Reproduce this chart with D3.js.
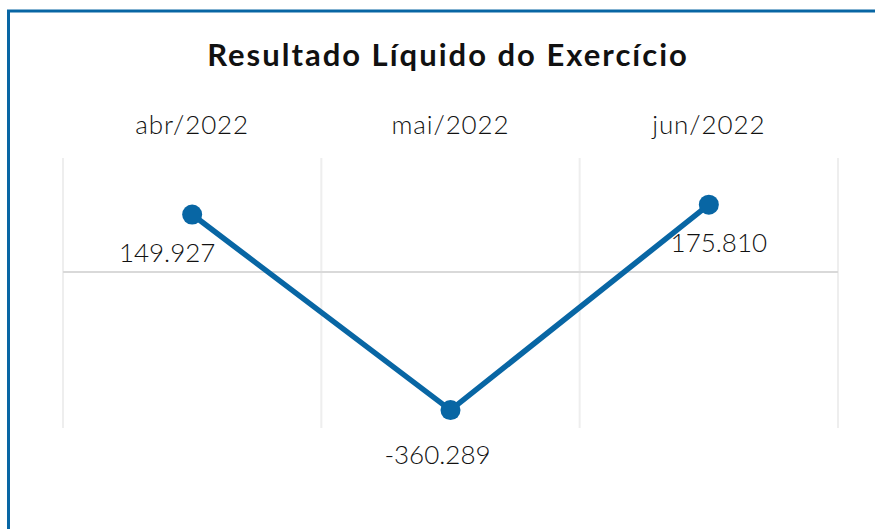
<!DOCTYPE html>
<html>
<head>
<meta charset="utf-8">
<script src="https://cdn.jsdelivr.net/npm/d3@7"></script>
<style>
  body { margin: 0; background: #fff; }
  text { font-family: "Lato", "Noto Sans", sans-serif; }
</style>
</head>
<body>
<div id="chart"></div>
<script>
const months = ["abr/2022", "mai/2022", "jun/2022"];
const values = [149927, -360289, 175810];
const valueLabels = ["149.927", "-360.289", "175.810"];

const W = 875, H = 529;
const blue = "#0866a4";

const svg = d3.select("#chart").append("svg")
    .attr("width", W)
    .attr("height", H);

// frame (top + left)
svg.append("path")
    .attr("d", `M8.5,${H} L8.5,11 L${W},11`)
    .attr("fill", "none")
    .attr("stroke", blue)
    .attr("stroke-width", 3);

svg.append("text")
    .attr("x", 448)
    .attr("y", 66)
    .attr("text-anchor", "middle")
    .attr("font-size", 31)
    .attr("font-weight", 700)
    .attr("letter-spacing", 2)
    .attr("fill", "#111")
    .text("Resultado Líquido do Exercício");

const plot = {left: 63, right: 838, top: 158, bottom: 428};

let x = d3.scaleBand()
    .domain(months)
    .range([plot.left, plot.right]);

let y = d3.scaleLinear()
    .domain([-407000, 297500])
    .range([plot.bottom, plot.top]);

// vertical grid (band edges)
let edges = months.map(m => x(m)).concat([plot.right]);
svg.selectAll(".vgrid")
    .data(edges)
    .enter()
    .append("line")
    .attr("class", "vgrid")
    .attr("x1", d => d).attr("x2", d => d)
    .attr("y1", plot.top).attr("y2", plot.bottom)
    .attr("stroke", "#eeeeee")
    .attr("stroke-width", 2);

// zero line
svg.append("line")
    .attr("x1", plot.left).attr("x2", plot.right)
    .attr("y1", y(0)).attr("y2", y(0))
    .attr("stroke", "#d9d9d9")
    .attr("stroke-width", 2);

// category labels on top
svg.selectAll(".cat")
    .data(months)
    .enter()
    .append("text")
    .attr("class", "cat")
    .attr("x", d => x(d) + x.bandwidth() / 2)
    .attr("y", 134)
    .attr("text-anchor", "middle")
    .attr("font-size", 26)
    .attr("font-weight", 300)
    .attr("letter-spacing", 0.9)
    .attr("fill", "#111")
    .text(d => d);

let pts = months.map((m, i) => ({m: m, v: values[i], label: valueLabels[i]}));

let line = d3.line()
    .x(d => x(d.m) + x.bandwidth() / 2)
    .y(d => y(d.v));

svg.append("path")
    .datum(pts)
    .attr("d", line)
    .attr("fill", "none")
    .attr("stroke", blue)
    .attr("stroke-width", 5.5);

svg.selectAll(".dot")
    .data(pts)
    .enter()
    .append("circle")
    .attr("class", "dot")
    .attr("cx", d => x(d.m) + x.bandwidth() / 2)
    .attr("cy", d => y(d.v))
    .attr("r", 10)
    .attr("fill", blue);

// value labels
let labelDx = [-25, -13, 10];
svg.selectAll(".val")
    .data(pts)
    .enter()
    .append("text")
    .attr("class", "val")
    .attr("x", (d, i) => x(d.m) + x.bandwidth() / 2 + labelDx[i])
    .attr("y", d => d.v >= 0 ? y(d.v) + 47 : y(d.v) + 54)
    .attr("text-anchor", "middle")
    .attr("font-size", 26)
    .attr("font-weight", 300)
    .attr("fill", "#111")
    .text(d => d.label);
</script>
</body>
</html>
